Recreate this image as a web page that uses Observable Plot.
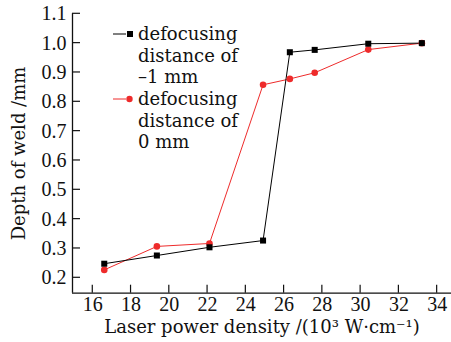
<!DOCTYPE html>
<html><head><meta charset="utf-8">
<script src="https://cdn.jsdelivr.net/npm/d3@7"></script>
<script src="https://cdn.jsdelivr.net/npm/@observablehq/plot@0.6"></script>
<style>
body{margin:0;background:#fff;}
#wrap{position:relative;width:451px;height:342px;}
</style></head><body><div id="wrap"></div>
<script>
const density = [16.6, 19.35, 22.1, 24.9, 26.3, 27.6, 30.4, 33.2];
const depthMinus1 = [0.248, 0.276, 0.304, 0.327, 0.969, 0.977, 0.998, 1.0];
const depthZero = [0.227, 0.307, 0.317, 0.858, 0.878, 0.899, 0.978, 1.0];
const xTicks = [16, 18, 20, 22, 24, 26, 28, 30, 32, 34];
const yTicks = [0.2, 0.3, 0.4, 0.5, 0.6, 0.7, 0.8, 0.9, 1.0, 1.1];
const seriesNames = ["defocusing distance of –1 mm", "defocusing distance of 0 mm"];
const legendLines = [["defocusing", "distance of", "–1 mm"], ["defocusing", "distance of", "0 mm"]];
const colors = ["#000000", "#ee2b2b"];
const xLabel = "Laser power density /(10³ W·cm⁻¹)";
const yLabel = "Depth of weld /mm";

const rows = [];
density.forEach((x, i) => {
  rows.push({x, y: depthMinus1[i], s: seriesNames[0]});
  rows.push({x, y: depthZero[i], s: seriesNames[1]});
});
const blackRows = rows.filter(d => d.s === seriesNames[0]);
const redRows = rows.filter(d => d.s === seriesNames[1]);

const xDomain = [14.94, 34.75];
const yDomain = [0.1475, 1.1];
const textFont = "'DejaVu Serif', serif";
const numFont = "'Liberation Serif', serif";

const plot = Plot.plot({
  width: 451, height: 342,
  marginLeft: 72, marginRight: 0, marginTop: 13.3, marginBottom: 49.3,
  style: {fontFamily: textFont, fontSize: "18px", color: "#111", background: "#fff", overflow: "visible"},
  x: {domain: xDomain},
  y: {domain: yDomain},
  marks: [
    Plot.axisX(xTicks, {tickSize: 0, tickPadding: 4, tickFormat: d => String(d), fontFamily: numFont, fontSize: 20, label: null}),
    Plot.axisY(yTicks, {tickSize: 0, tickPadding: 6, tickFormat: d => d.toFixed(1), fontFamily: numFont, fontSize: 20, label: null}),
    Plot.axisX({ticks: [], label: xLabel, labelAnchor: "center", labelArrow: "none", labelOffset: 40, fontSize: 18, dx: 2.5}),
    Plot.axisY({ticks: [], label: yLabel, labelAnchor: "center", labelArrow: "none", labelOffset: 60, fontSize: 18}),
    Plot.ruleX([xDomain[0]], {stroke: "#111", strokeWidth: 1.3}),
    Plot.ruleY([yDomain[0]], {stroke: "#111", strokeWidth: 1.3}),
    Plot.line(redRows, {x: "x", y: "y", stroke: colors[1], strokeWidth: 1}),
    Plot.line(blackRows, {x: "x", y: "y", stroke: colors[0], strokeWidth: 1}),
    Plot.dot(redRows, {x: "x", y: "y", fill: colors[1], r: 3.3, symbol: "circle"}),
    Plot.dot(blackRows, {x: "x", y: "y", fill: colors[0], r: 3.4, symbol: "square"})
  ]
});
document.getElementById("wrap").appendChild(plot);

const svg = d3.select(plot);
const sx = plot.scale("x"), sy = plot.scale("y");
const y0px = sy.apply(yDomain[0]), x0px = sx.apply(xDomain[0]);
// inward ticks
const tg = svg.append("g").attr("stroke", "#111").attr("stroke-width", 1.2);
xTicks.forEach(v => {
  const px = sx.apply(v);
  tg.append("line").attr("x1", px).attr("x2", px).attr("y1", y0px).attr("y2", y0px - 8);
});
yTicks.forEach(v => {
  const py = sy.apply(v);
  tg.append("line").attr("x1", x0px).attr("x2", x0px + 8).attr("y1", py).attr("y2", py);
});

// legend
const lg = svg.append("g").attr("font-family", textFont).attr("font-size", 18).attr("text-anchor", "start");
const rowY = [34, 99];
[0, 1].forEach(i => {
  const yc = rowY[i];
  lg.append("line").attr("x1", 113).attr("x2", 126).attr("y1", yc).attr("y2", yc)
    .attr("stroke", colors[i]).attr("stroke-width", 1);
  if (i === 0) {
    lg.append("rect").attr("x", 127).attr("y", yc - 3).attr("width", 6).attr("height", 6).attr("fill", colors[0]);
  } else {
    lg.append("circle").attr("cx", 129.5).attr("cy", yc).attr("r", 3.2).attr("fill", colors[1]);
  }
  legendLines[i].forEach((t, j) => {
    lg.append("text").attr("x", 138).attr("y", yc + j * 21.5 + 6).attr("fill", "#111").text(t);
  });
});
</script></body></html>
